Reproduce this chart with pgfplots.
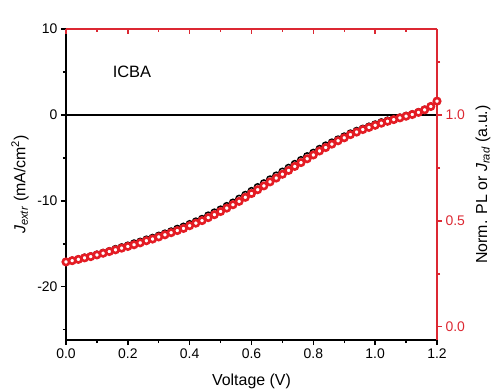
\documentclass[border=0pt]{standalone}
\usepackage{pgfplots}
\usepackage{pgfplotstable}
\pgfplotsset{compat=1.18}
\usepackage{fontspec}
\setmainfont{Liberation Sans}
\definecolor{myred}{RGB}{228,28,36}
\definecolor{axred}{RGB}{220,40,50}

\pgfplotstableread{
V J
0.00 -17.1
0.02 -16.95
0.04 -16.8
0.06 -16.6
0.08 -16.45
0.10 -16.25
0.12 -16.05
0.14 -15.85
0.16 -15.6
0.18 -15.4
0.20 -15.2
0.22 -14.95
0.24 -14.75
0.26 -14.5
0.28 -14.3
0.30 -14.05
0.32 -13.8
0.34 -13.55
0.36 -13.25
0.38 -13.0
0.40 -12.7
0.42 -12.4
0.44 -12.1
0.46 -11.7
0.48 -11.35
0.50 -11.0
0.52 -10.6
0.54 -10.2
0.56 -9.75
0.58 -9.3
0.60 -8.85
0.62 -8.4
0.64 -7.95
0.66 -7.5
0.68 -7.05
0.70 -6.6
0.72 -6.15
0.74 -5.7
0.76 -5.25
0.78 -4.8
0.80 -4.4
0.82 -3.95
0.84 -3.55
0.86 -3.2
0.88 -2.85
0.90 -2.5
0.92 -2.15
0.94 -1.85
0.96 -1.6
0.98 -1.35
1.00 -1.1
1.02 -0.85
1.04 -0.65
1.06 -0.45
1.08 -0.3
1.10 -0.1
1.12 0.08
1.14 0.33
1.16 0.62
1.18 1.0
1.20 1.6
}\blackdata

\pgfplotstableread{
V N
0.00 0.306
0.02 0.312
0.04 0.318
0.06 0.325
0.08 0.331
0.10 0.339
0.12 0.347
0.14 0.355
0.16 0.363
0.18 0.371
0.20 0.379
0.22 0.387
0.24 0.396
0.26 0.406
0.28 0.414
0.30 0.424
0.32 0.434
0.34 0.444
0.36 0.454
0.38 0.464
0.40 0.477
0.42 0.489
0.44 0.501
0.46 0.515
0.48 0.529
0.50 0.544
0.52 0.560
0.54 0.576
0.56 0.592
0.58 0.611
0.60 0.629
0.62 0.647
0.64 0.665
0.66 0.684
0.68 0.702
0.70 0.720
0.72 0.738
0.74 0.757
0.76 0.775
0.78 0.793
0.80 0.811
0.82 0.830
0.84 0.846
0.86 0.862
0.88 0.878
0.90 0.892
0.92 0.907
0.94 0.919
0.96 0.931
0.98 0.941
1.00 0.951
1.02 0.961
1.04 0.970
1.06 0.978
1.08 0.986
1.10 0.994
1.12 1.002
1.14 1.012
1.16 1.024
1.18 1.040
1.20 1.065
}\reddata

\begin{document}
\begin{tikzpicture}
\pgfplotsset{
  base/.style={
    scale only axis, width=371bp, height=311bp,
    xmin=0, xmax=1.2,
    tick label style={font=\fontsize{14}{16}\selectfont},
    label style={font=\fontsize{16}{19}\selectfont},
    axis line style={line width=1.8pt},
    major tick length=5bp, minor tick length=3bp,
    every tick/.style={line width=1.5pt},
    clip=false,
  },
}
\begin{axis}[base, name=main,
  axis x line*=bottom, axis y line*=left,
  ymin=-26.2, ymax=10,
  ytick={-20,-10,0,10}, yticklabels={-20,-10,0,10},
  minor ytick={-25,-15,-5,5},
  xtick={0,0.2,0.4,0.6,0.8,1.0,1.2},
  xticklabels={0.0,0.2,0.4,0.6,0.8,1.0,1.2},
  minor xtick={0.1,0.3,0.5,0.7,0.9,1.1},
  tick align=outside,
  xlabel={Voltage (V)},
  ylabel={\textit{J}\textsubscript{\textit{extr}} (mA/cm\textsuperscript{2})},
  xlabel style={at={([yshift=-41bp]axis description cs:0.5,0)}, anchor=center},
  ylabel style={at={([xshift=-46bp]axis description cs:0,0.5)}, anchor=center},
]
\addplot[black, line width=1.8pt] coordinates {(0,0) (1.2,0)};
\addplot[only marks, mark=*, mark size=3.3bp, black, mark options={fill=white, line width=1.5pt}] table[x=V, y=J] {\blackdata};
\node[anchor=west, font=\fontsize{16.5}{19}\selectfont] at (axis cs:0.14,5) {ICBA};
\end{axis}

\begin{axis}[base,
  hide x axis,
  axis y line*=right,
  ymin=-0.0627, ymax=1.4057,
  ytick={0,0.5,1}, yticklabels={0.0,0.5,1.0},
  minor ytick={0.25,0.75,1.25},
  tick align=outside,
  y axis line style={axred},
  every y tick/.style={axred, line width=1.5pt},
  yticklabel style={text=axred},
  ylabel={Norm. PL or \textit{J}\textsubscript{\textit{rad}} (a.u.)},
  ylabel style={at={([xshift=46bp]axis description cs:1,0.5)}, anchor=center},
]
\addplot[only marks, mark=*, mark size=3.2bp, myred, mark options={fill=white, line width=2.6pt}] table[x=V, y=N] {\reddata};
\end{axis}

\begin{axis}[base,
  hide y axis,
  axis x line*=top,
  ymin=0, ymax=1,
  xtick={0,0.2,0.4,0.6,0.8,1.0,1.2}, xticklabels={},
  minor xtick={0.1,0.3,0.5,0.7,0.9,1.1},
  tick align=inside,
  x axis line style={axred},
  every x tick/.style={axred, line width=1.5pt},
]
\end{axis}

\pgfresetboundingbox
\path ([shift={(-66bp,-52bp)}]main.south west) rectangle ([shift={(57bp,29bp)}]main.north east);
\end{tikzpicture}
\end{document}
